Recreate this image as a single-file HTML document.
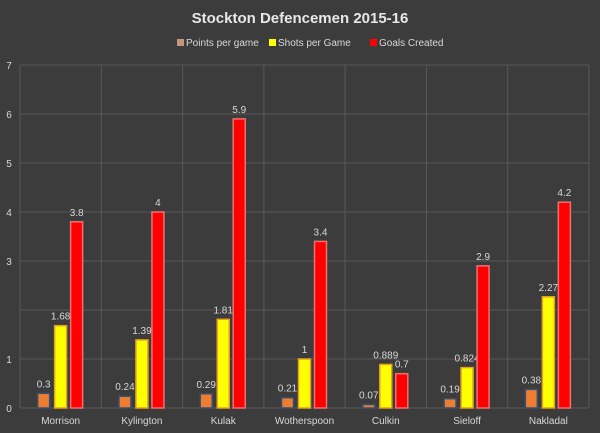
<!DOCTYPE html>
<html><head><meta charset="utf-8"><style>
body{margin:0;background:#3c3c3c;}
svg{display:block;font-family:"Liberation Sans",sans-serif;}
</style></head><body>
<svg id="chart" width="600" height="433">
<rect width="600" height="433" fill="#3c3c3c"/>
<text x="300" y="23" text-anchor="middle" fill="#e8e8e8" font-size="15" font-weight="bold">Stockton Defencemen 2015-16</text>
<g id="legend"></g>
<g id="grid"></g>
<g id="bars"></g>
</svg>
<script>
const categories=["Morrison","Kylington","Kulak","Wotherspoon","Culkin","Sieloff","Nakladal"];
const pointsPerGame=[0.3,0.24,0.29,0.21,0.07,0.19,0.38];
const shotsPerGame=[1.68,1.39,1.81,1,0.889,0.824,2.27];
const goalsCreated=[3.8,4,5.9,3.4,0.7,2.9,4.2];
const seriesNames=["Points per game","Shots per Game","Goals Created"];
const yTicks=[0,1,2,3,4,5,6,7];
const yTickLabels=["0","1","","3","4","5","6","7"];
const NS="http://www.w3.org/2000/svg";
const L=20,R=589,T=65,B=408,yMax=7;
const y=v=>B-(v/yMax)*(B-T);
const bw=(R-L)/categories.length;
const xc=i=>L+bw*(i+0.5);
function mk(tag,attrs,parent,txt){const e=document.createElementNS(NS,tag);for(const k in attrs)e.setAttribute(k,attrs[k]);if(txt!==undefined)e.textContent=txt;parent.appendChild(e);return e;}
const grid=document.getElementById('grid'),bars=document.getElementById('bars'),leg=document.getElementById('legend');
yTicks.forEach((t,i)=>{
 const g=mk('line',{x1:L,x2:R,y1:y(t),y2:y(t),stroke:'#595959','stroke-width':1},grid);
 
 
 const tl=mk('text',{x:9,y:y(t)+4,'text-anchor':'middle',fill:'#d8d8d8','font-size':10},grid,yTickLabels[i]);
 
 
});
for(let i=0;i<=categories.length;i++){
 const v=mk('line',{x1:L+bw*i,x2:L+bw*i,y1:T,y2:B,stroke:'#595959','stroke-width':1},grid);
 
 
}
const series=[pointsPerGame,shotsPerGame,goalsCreated];
const fills=['#ed7d31','#ffff00','#ff0000'];
const strokes=['#35506e','#e8a020','#f07070'];
const offs=[-17,0,16];
const names=['bar-points','bar-shots','bar-goals'];
categories.forEach((c,i)=>{
 series.forEach((s,j)=>{
  const v=s[i],x=xc(i)+offs[j]-6;
  const r=mk('rect',{x:x,y:y(v),width:12,height:B-y(v),fill:fills[j],stroke:strokes[j],'stroke-width':1.5},bars);
  
  
  const t=mk('text',{x:x+6,y:y(v)-6,'text-anchor':'middle',fill:'#d8d8d8','font-size':10},bars,String(v));
  
  
 });
 const cl=mk('text',{x:xc(i),y:424,'text-anchor':'middle',fill:'#d8d8d8','font-size':10},bars,c);
 
 
});
const lx=[177,269,370];
seriesNames.forEach((n,j)=>{
 const s=mk('rect',{x:lx[j],y:39,width:7,height:7,fill:j==0?'#c8967a':fills[j]},leg);
 
 
 const t=mk('text',{x:lx[j]+9,y:46,fill:'#d8d8d8','font-size':10},leg,n);
 
 
});
</script>
</body></html>
